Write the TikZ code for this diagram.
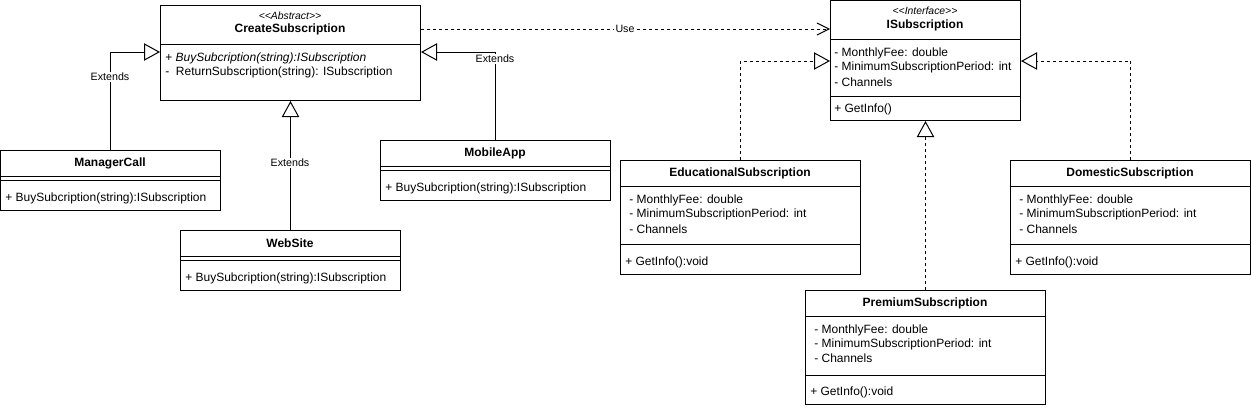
\documentclass[tikz,border=0pt]{standalone}
\usepackage{fontspec}
\setmainfont{Liberation Sans}[Ligatures=TeXOff]
\usetikzlibrary{arrows.meta}
\tikzset{
  box/.style={draw, line width=0.75pt, anchor=north west, inner sep=0pt},
  sep/.style={line width=0.75pt},
  txt/.style={anchor=west, inner sep=0pt, font=\fontsize{9}{10}\selectfont},
  ttl/.style={anchor=center, inner sep=0pt, font=\fontsize{9}{10}\selectfont\bfseries},
  ster/.style={anchor=center, inner sep=0pt, font=\fontsize{7.8}{8}\selectfont\itshape},
  lbl/.style={fill=white, inner sep=1pt, font=\fontsize{8}{9}\selectfont},
  ext/.style={line width=0.75pt, -{Triangle[open, length=12pt, width=13pt]}},
  real/.style={ext, dash pattern=on 2.25pt off 2.25pt},
  use/.style={line width=0.75pt, dash pattern=on 2.25pt off 2.25pt, -{Straight Barb[length=9pt, width=9pt]}},
}
\begin{document}
\begin{tikzpicture}[x=0.75pt, y=-0.75pt]
\useasboundingbox (0,0) rectangle (1251,408);

% CreateSubscription
\node[box, minimum width=260*0.75pt, minimum height=95*0.75pt] (cs) at (160,5) {};
\draw[sep] (160,44) -- (420,44);
\node[ster] (csst) at (290,16) {<<Abstract>>};
\node[ttl] (csn) at (290,29) {CreateSubscription};
\node[txt] (csm1) at (165,58) {+ \textit{BuySubcription(string):ISubscription}};
\node[txt] (csm2) at (165,72) {-\ \ ReturnSubscription(string): ISubscription};

% ManagerCall
\node[box, minimum width=220*0.75pt, minimum height=60*0.75pt] (mc) at (0,150) {};
\draw[sep] (0,176) -- (220,176);
\draw[sep] (0,180) -- (220,180);
\node[ttl] (mcn) at (110,163) {ManagerCall};
\node[txt] (mcm) at (5,198) {+ BuySubcription(string):ISubscription};

% WebSite
\node[box, minimum width=220*0.75pt, minimum height=60*0.75pt] (ws) at (180,230) {};
\draw[sep] (180,256) -- (400,256);
\draw[sep] (180,260) -- (400,260);
\node[ttl] (wsn) at (290,243) {WebSite};
\node[txt] (wsm) at (185,278) {+ BuySubcription(string):ISubscription};

% MobileApp
\node[box, minimum width=230*0.75pt, minimum height=60*0.75pt] (ma) at (380,140) {};
\draw[sep] (380,166) -- (610,166);
\draw[sep] (380,170) -- (610,170);
\node[ttl] (man) at (495,153) {MobileApp};
\node[txt] (mam) at (385,188) {+ BuySubcription(string):ISubscription};

% ISubscription
\node[box, minimum width=190*0.75pt, minimum height=120*0.75pt] (is) at (830,0) {};
\draw[sep] (830,39) -- (1020,39);
\draw[sep] (830,96) -- (1020,96);
\node[ster] (isst) at (925,11) {<<Interface>>};
\node[ttl] (isn) at (925,25) {ISubscription};
\node[txt] (isa1) at (834,53) {- MonthlyFee: double};
\node[txt] (isa2) at (834,67) {- MinimumSubscriptionPeriod: int};
\node[txt] (isa3) at (834,82) {- Channels};
\node[txt] (ism) at (834,109) {+ GetInfo()};

% EducationalSubscription
\node[box, minimum width=240*0.75pt, minimum height=114*0.75pt] (edu) at (620,160) {};
\draw[sep] (620,186) -- (860,186);
\draw[sep] (620,244) -- (860,244);
\node[ttl] (edun) at (740,173) {EducationalSubscription};
\node[txt] (edua1) at (629,200) {- MonthlyFee: double};
\node[txt] (edua2) at (629,214) {- MinimumSubscriptionPeriod: int};
\node[txt] (edua3) at (629,229) {- Channels};
\node[txt] (edum) at (625,262) {+ GetInfo():void};

% DomesticSubscription
\node[box, minimum width=240*0.75pt, minimum height=114*0.75pt] (dom) at (1010,160) {};
\draw[sep] (1010,186) -- (1250,186);
\draw[sep] (1010,244) -- (1250,244);
\node[ttl] (domn) at (1130,173) {DomesticSubscription};
\node[txt] (doma1) at (1019,200) {- MonthlyFee: double};
\node[txt] (doma2) at (1019,214) {- MinimumSubscriptionPeriod: int};
\node[txt] (doma3) at (1019,229) {- Channels};
\node[txt] (domm) at (1015,262) {+ GetInfo():void};

% PremiumSubscription
\node[box, minimum width=240*0.75pt, minimum height=114*0.75pt] (pre) at (805,290) {};
\draw[sep] (805,316) -- (1045,316);
\draw[sep] (805,375) -- (1045,375);
\node[ttl] (pren) at (925,303) {PremiumSubscription};
\node[txt] (prea1) at (814,330) {- MonthlyFee: double};
\node[txt] (prea2) at (814,344) {- MinimumSubscriptionPeriod: int};
\node[txt] (prea3) at (814,358) {- Channels};
\node[txt] (prem) at (810,392) {+ GetInfo():void};

% Connectors
\draw[ext] (mc.north) |- (cs.west |- 0,52);
\node[lbl] (l1) at (110,77) {Extends};
\draw[ext] (ws.north) -- (cs.south);
\node[lbl] (l2) at (290,163) {Extends};
\draw[ext] (ma.north) |- (cs.east |- 0,52);
\node[lbl] (l3) at (495,59) {Extends};
\draw[use] (cs.east |- 0,29) -- (is.west |- 0,29);
\node[lbl] (l4) at (625,29) {Use};
\draw[real] (edu.north) |- (is.west |- 0,61);
\draw[real] (dom.north) |- (is.east |- 0,61);
\draw[real] (pre.north) -- (is.south);
\end{tikzpicture}
\end{document}
